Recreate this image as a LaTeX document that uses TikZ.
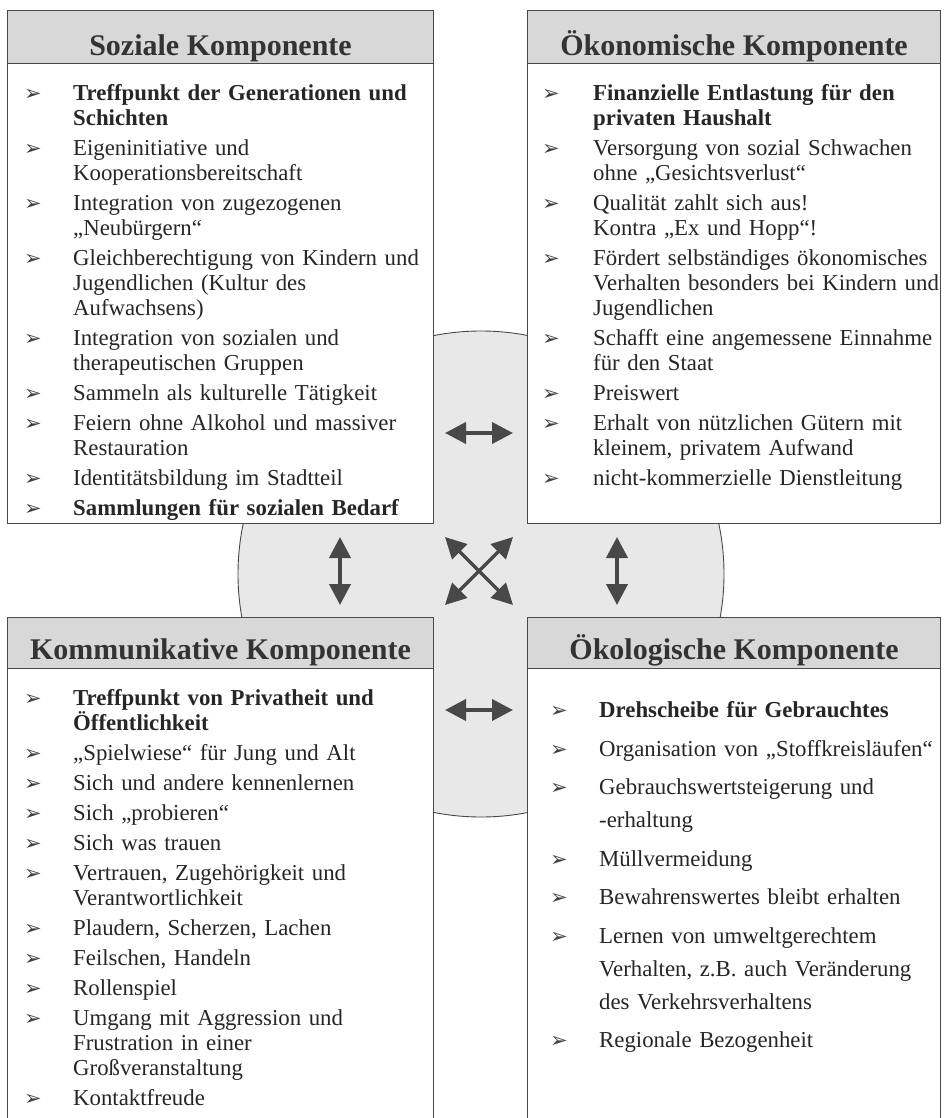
\documentclass[tikz,border=0pt]{standalone}
\usepackage{fontspec}
\setmainfont{Liberation Serif}
\newfontfamily\symfont{DejaVu Sans}
\usetikzlibrary{arrows.meta}
\definecolor{dgrau}{RGB}{72,72,72}
\definecolor{kopfgrau}{RGB}{216,216,216}
\definecolor{kreisgrau}{RGB}{232,232,232}

\newlength{\einzug}
\setlength{\einzug}{49pt}
\newcommand{\bul}{{\symfont\fontsize{21}{21}\selectfont\color{black!75}\char"27A2}}
\newcommand{\punkt}[1]{\par\hangindent=\einzug\hangafter=1\noindent
  \makebox[\einzug][l]{\rule{0pt}{20pt}\bul}#1}
\newcommand{\listenstart}[1]{\setlength{\parskip}{#1}\lineskiplimit=-40pt}

\begin{document}
\begin{tikzpicture}[x=1pt,y=-1pt,
  rahmen/.style={draw=dgrau,line width=1.1pt,fill=white,anchor=north west,inner sep=0pt},
  kopf/.style={draw=dgrau,line width=1.1pt,fill=kopfgrau,anchor=north west,inner sep=0pt,
               text=black!80,font=\fontsize{30}{32}\selectfont\bfseries,text depth=0pt},
  liste/.style={anchor=north west,inner sep=0pt,text width=420pt,align=left,
                text=black!85,font=\fontsize{22.8}{25}\selectfont},
  pfeil/.style={{Triangle[length=21pt,width=21pt]}-{Triangle[length=21pt,width=21pt]},
                line width=4pt,dgrau}
]
\useasboundingbox (0,0) rectangle (943,1118);
\clip (0,0) rectangle (943,1118);

% Kreis im Hintergrund
\node[circle,draw=dgrau,line width=0.9pt,fill=kreisgrau,minimum size=486pt,inner sep=0pt] (kreis) at (481,574) {};

% Kaesten
\node[rahmen,minimum width=426pt,minimum height=513pt] (sozial) at (7,10) {};
\node[rahmen,minimum width=413pt,minimum height=513pt] (oekon) at (527,10) {};
\node[rahmen,minimum width=426pt,minimum height=540pt] (komm) at (7,617) {};
\node[rahmen,minimum width=413pt,minimum height=540pt] (oekol) at (527,617) {};

\node[kopf,minimum width=426pt,minimum height=53pt,text height=36pt] (sozialk) at (sozial.north west) {Soziale Komponente};
\node[kopf,minimum width=413pt,minimum height=53pt,text height=36pt] (oekonk) at (oekon.north west) {Ökonomische Komponente};
\node[kopf,minimum width=426pt,minimum height=51pt,text height=33pt] (kommk) at (komm.north west) {Kommunikative Komponente};
\node[kopf,minimum width=413pt,minimum height=51pt,text height=33pt] (oekolk) at (oekol.north west) {Ökologische Komponente};

% Listen
\node[liste] (sozliste) at (24,70) {\listenstart{5pt}%
  \punkt{\textbf{Treffpunkt der Generationen und\newline Schichten}}
  \punkt{Eigeninitiative und\newline Kooperationsbereitschaft}
  \punkt{Integration von zugezogenen\newline „Neubürgern“}
  \punkt{Gleichberechtigung von Kindern und\newline Jugendlichen (Kultur des\newline Aufwachsens)}
  \punkt{Integration von sozialen und\newline therapeutischen Gruppen}
  \punkt{Sammeln als kulturelle Tätigkeit}
  \punkt{Feiern ohne Alkohol und massiver\newline Restauration}
  \punkt{Identitätsbildung im Stadtteil}
  \punkt{\textbf{Sammlungen für sozialen Bedarf}}};

\node[liste] (oekonliste) at (542,70) {\listenstart{5pt}\setlength{\einzug}{51pt}%
  \punkt{\textbf{Finanzielle Entlastung für den\newline privaten Haushalt}}
  \punkt{Versorgung von sozial Schwachen\newline ohne „Gesichtsverlust“}
  \punkt{Qualität zahlt sich aus!\newline Kontra „Ex und Hopp“!}
  \punkt{Fördert selbständiges ökonomisches\newline Verhalten besonders bei Kindern und\newline Jugendlichen}
  \punkt{Schafft eine angemessene Einnahme\newline für den Staat}
  \punkt{Preiswert}
  \punkt{Erhalt von nützlichen Gütern mit\newline kleinem, privatem Aufwand}
  \punkt{nicht-kommerzielle Dienstleitung}};

\node[liste] (kommliste) at (24,675) {\listenstart{5pt}%
  \punkt{\textbf{Treffpunkt von Privatheit und\newline Öffentlichkeit}}
  \punkt{„Spielwiese“ für Jung und Alt}
  \punkt{Sich und andere kennenlernen}
  \punkt{Sich „probieren“}
  \punkt{Sich was trauen}
  \punkt{Vertrauen, Zugehörigkeit und\newline Verantwortlichkeit}
  \punkt{Plaudern, Scherzen, Lachen}
  \punkt{Feilschen, Handeln}
  \punkt{Rollenspiel}
  \punkt{Umgang mit Aggression und\newline Frustration in einer\newline Großveranstaltung}
  \punkt{Kontaktfreude}};

\node[liste,font=\fontsize{22.8}{33}\selectfont] (oekolliste) at (550,679) {\listenstart{5.5pt}%
  \punkt{\textbf{Drehscheibe für Gebrauchtes}}
  \punkt{Organisation von „Stoffkreisläufen“}
  \punkt{Gebrauchswertsteigerung und\newline -erhaltung}
  \punkt{Müllvermeidung}
  \punkt{Bewahrenswertes bleibt erhalten}
  \punkt{Lernen von umweltgerechtem\newline Verhalten, z.B. auch Veränderung\newline des Verkehrsverhaltens}
  \punkt{Regionale Bezogenheit}};

% Pfeile
\coordinate (oben1) at (445,433);   \coordinate (oben2) at (513,433);
\coordinate (unten1) at (445,710);  \coordinate (unten2) at (513,710);
\coordinate (links1) at (340,537);  \coordinate (links2) at (340,605);
\coordinate (rechts1) at (617,537); \coordinate (rechts2) at (617,605);
\coordinate (kr1) at (445,537); \coordinate (kr2) at (513,605);
\coordinate (kr3) at (513,537); \coordinate (kr4) at (445,605);

\draw[pfeil] (oben1) -- (oben2);
\draw[pfeil] (unten1) -- (unten2);
\draw[pfeil] (links1) -- (links2);
\draw[pfeil] (rechts1) -- (rechts2);
\draw[pfeil,line width=3.5pt] (kr1) -- (kr2);
\draw[pfeil,line width=3.5pt] (kr3) -- (kr4);
\end{tikzpicture}
\end{document}
